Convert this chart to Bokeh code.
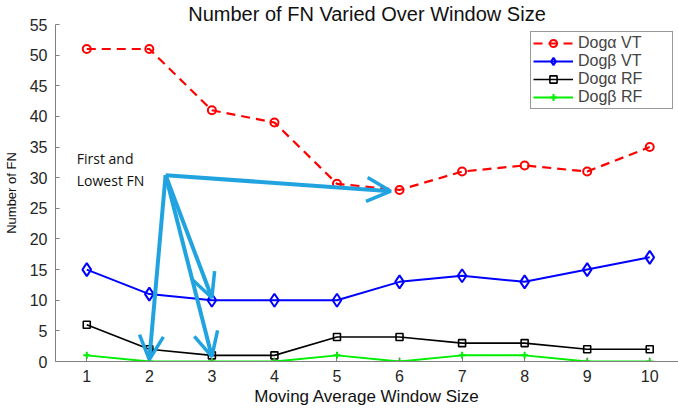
from bokeh.plotting import figure
from bokeh.models import Range1d, FixedTicker, Arrow, OpenHead, Label, Legend, LegendItem
from bokeh.embed import file_html
from bokeh.resources import INLINE

window = [1, 2, 3, 4, 5, 6, 7, 8, 9, 10]
dog_a_vt = [51, 51, 41, 39, 29, 28, 31, 32, 31, 35]
dog_b_vt = [15, 11, 10, 10, 10, 13, 14, 13, 15, 17]
dog_a_rf = [6, 2, 1, 1, 4, 4, 3, 3, 2, 2]
dog_b_rf = [1, 0, 0, 0, 1, 0, 1, 1, 0, 0]
y_ticks = [0, 5, 10, 15, 20, 25, 30, 35, 40, 45, 50, 55]

# annotation: arrows from a common start to the "first and lowest" points
arrow_start = (2.26, 30.4)
arrow_ends_x = [5.86, 3.0, 3.0, 2.0]
arrow_ends_y = [27.8, 10.4, 0.8, 0.3]
note_text = "First and\nLowest FN"
note_pos = (0.84, 34.7)
title_text = "Number of FN Varied Over Window Size"

FONT = "Liberation Sans"

p = figure(width=678, height=408, output_backend="svg", toolbar_location=None,
           x_range=Range1d(0.5, 10.46), y_range=Range1d(0, 55),
           min_border_left=53, min_border_right=0, min_border_bottom=46, min_border_top=0)

p.title.text = title_text
p.title.align = "center"
p.title.text_font = FONT
p.title.text_font_size = "20px"
p.title.text_font_style = "normal"
p.title.text_color = "#111111"
p.title.standoff = 0
p.title.offset = 0
p.title.text_line_height = 0.85

p.xgrid.visible = False
p.ygrid.visible = False
p.outline_line_color = None

r1l = p.line(window, dog_a_vt, color="#ff0000", line_width=2.2, line_dash="9 6")
r1m = p.scatter(window, dog_a_vt, marker="circle", size=8, line_color="#ff0000",
                fill_color=None, line_width=2)
r2l = p.line(window, dog_b_vt, color="#0000ff", line_width=2)
r2m = p.scatter(window, dog_b_vt, marker="diamond", size=13, line_color="#0000ff",
                fill_color=None, line_width=2)
r3l = p.line(window, dog_a_rf, color="#000000", line_width=1.6)
r3m = p.scatter(window, dog_a_rf, marker="square", size=7, line_color="#000000",
                fill_color=None, line_width=1.6)
r4l = p.line(window, dog_b_rf, color="#00ee00", line_width=2)
r4m = p.scatter(window, dog_b_rf, marker="cross", size=7, line_color="#00ee00",
                line_width=2)

for ex, ey in zip(arrow_ends_x, arrow_ends_y):
    p.add_layout(Arrow(end=OpenHead(size=24, line_color="#21a3e0", line_width=3.5),
                       x_start=arrow_start[0], y_start=arrow_start[1],
                       x_end=ex, y_end=ey, line_color="#21a3e0", line_width=4))

p.add_layout(Label(x=note_pos[0], y=note_pos[1], text=note_text, text_font="Open Sans",
                   text_font_size="14px", text_color="#111111", text_baseline="top",
                   text_line_height=1.15))

for ax in (p.xaxis[0], p.yaxis[0]):
    ax.axis_line_color = "#808080"
    ax.major_tick_line_color = "#808080"
    ax.major_tick_in = 4
    ax.major_tick_out = 0
    ax.minor_tick_line_color = None
    ax.major_label_text_font = FONT
    ax.major_label_text_font_size = "16px"
    ax.major_label_text_color = "#262626"
    ax.axis_label_text_font = FONT
    ax.axis_label_text_font_style = "normal"
    ax.axis_label_text_color = "#111111"

p.xaxis.ticker = FixedTicker(ticks=window)
p.yaxis.ticker = FixedTicker(ticks=y_ticks)
p.xaxis.axis_label = "Moving Average Window Size"
p.xaxis.axis_label_text_font_size = "17px"
p.xaxis.axis_label_standoff = 2
p.xaxis.major_label_standoff = 8
p.yaxis.axis_label = "Number of FN"
p.yaxis.axis_label_text_font_size = "13px"
p.yaxis.axis_label_standoff = 8
p.yaxis.major_label_standoff = 8

legend = Legend(items=[
    LegendItem(label="Dogα VT", renderers=[r1l, r1m]),
    LegendItem(label="Dogβ VT", renderers=[r2l, r2m]),
    LegendItem(label="Dogα RF", renderers=[r3l, r3m]),
    LegendItem(label="Dogβ RF", renderers=[r4l, r4m]),
], location=(475, 252))
legend.label_text_font = FONT
legend.label_text_font_size = "16px"
legend.border_line_color = "#333333"
legend.border_line_width = 1
legend.padding = 2
legend.spacing = 0
legend.glyph_width = 40
legend.glyph_height = 18
legend.label_height = 18
legend.label_width = 92
legend.margin = 0
legend.label_standoff = 5
p.add_layout(legend)

open("out.html", "w").write(file_html(p, INLINE))
